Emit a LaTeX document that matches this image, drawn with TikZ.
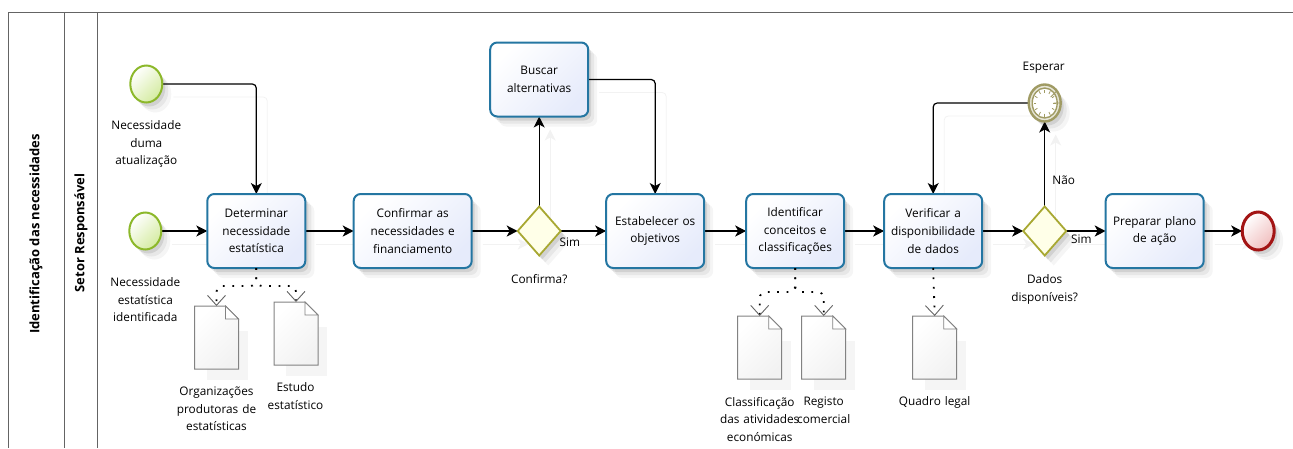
\documentclass[tikz,border=0pt]{standalone}
\usepackage{fontspec}
\setmainfont{Open Sans}
\usepackage{xcolor}
\usetikzlibrary{shapes,shapes.geometric,arrows.meta,positioning,calc,shadows,backgrounds}
\definecolor{taskcolor}{RGB}{36,118,162}
\definecolor{taskfill}{RGB}{230,235,251}
\definecolor{startcolor}{RGB}{140,184,42}
\definecolor{startfill}{RGB}{212,235,160}
\definecolor{endcolor}{RGB}{163,20,20}
\definecolor{endfill}{RGB}{240,190,190}
\definecolor{gatecolor}{RGB}{168,168,50}
\definecolor{gatefill}{RGB}{255,255,232}
\definecolor{timercolor}{RGB}{160,155,100}
\definecolor{lanecolor}{RGB}{100,100,100}
\definecolor{doccolor}{RGB}{130,130,130}

\begin{document}
\begin{tikzpicture}[
    x=1pt, y=-1pt,
    every node/.style={font=\fontsize{11.8}{17.6}\selectfont, inner sep=0pt, outer sep=0pt},
    softshadow/.style={
        general shadow={shadow xshift=3pt, shadow yshift=-4pt, fill=black, opacity=.09},
        general shadow={shadow xshift=6pt, shadow yshift=-7pt, fill=black, opacity=.06},
        general shadow={shadow xshift=9pt, shadow yshift=-10pt, fill=black, opacity=.04}},
    taskbox/.style={rectangle, rounded corners=7pt, draw=taskcolor, line width=2pt, top color=white, bottom color=taskfill, shading angle=45, minimum width=98pt, minimum height=74pt, text width=96pt, align=center, softshadow},
    startevent/.style={ellipse, draw=startcolor, line width=2pt, top color=white, bottom color=startfill, shading angle=45, minimum width=32pt, minimum height=37pt, softshadow},
    endevent/.style={ellipse, draw=endcolor, line width=3pt, top color=white, bottom color=endfill, shading angle=45, minimum width=32pt, minimum height=38pt, softshadow},
    timerevent/.style={ellipse, draw=timercolor, line width=2.4pt, fill=timercolor!25, minimum width=32pt, minimum height=37pt, softshadow},
    gateway/.style={diamond, draw=gatecolor, line width=1.8pt, fill=gatefill, minimum width=43pt, minimum height=49pt, softshadow},
    docbox/.style={rectangle, minimum width=44pt, minimum height=63pt},
    tasklabel/.style={text width=110pt, align=center, anchor=north},
    arrow/.style={->, >={Stealth[length=11pt, width=11pt, inset=3pt]}, line width=1.2pt, black, rounded corners=4pt,
        preaction={draw=black!5, line width=.8pt, transform canvas={shift={(11pt,-13pt)}}}},
    assoc/.style={->, >={Straight Barb[length=10pt, width=18pt, line width=.9pt, color=lanecolor]}, line width=1.8pt, black, dash pattern=on 1.8pt off 7.6pt, rounded corners=6pt},
    lane/.style={draw=lanecolor, line width=1pt},
    lanetitle/.style={rotate=90, font=\fontsize{13}{14}\selectfont\bfseries}
]
\useasboundingbox (0,0) rectangle (1293,448);

% Pool and lane
\draw[lane] (1293,12.5) -- (8.5,12.5) -- (8.5,448);
\draw[lane] (64,12.5) -- (64,448);
\draw[lane] (97,12.5) -- (97,448);
\node[lanetitle] (pooltitle) at (36,234) {Identificação das necessidades};
\node[lanetitle] (lanetitle) at (81,233) {Setor Responsável};

% Main flow
\node[taskbox] (determinar) at (256.3,231) {Determinar\\necessidade\\estatística};
\node[taskbox, minimum width=118pt, text width=116pt, right=48.4pt of determinar] (confirmar) {Confirmar as\\necessidades e\\financiamento};
\node[gateway, right=46pt of confirmar] (confirma) {};
\node[taskbox, right=45.5pt of confirma] (estabelecer) {Estabelecer os\\objetivos};
\node[taskbox, right=42pt of estabelecer] (identificar) {Identificar\\conceitos e\\classificações};
\node[taskbox, right=40pt of identificar] (verificar) {Verificar a\\disponibilidade\\de dados};
\node[gateway, right=41pt of verificar] (dados) {};
\node[taskbox, right=39.5pt of dados] (preparar) {Preparar plano\\de ação};
\node[endevent, right=38.5pt of preparar] (fim) {};

% Events and branches
\node[startevent, left=46pt of determinar] (inicioa) {};
\node[startevent, above=110pt of inicioa, xshift=1pt] (iniciob) {};
\node[taskbox, above=90pt of confirma] (buscar) {Buscar\\alternativas};
\node[timerevent, above=85pt of dados] (esperar) {};

% Clock face
\draw[timercolor, line width=1.4pt, fill=white] (esperar) ellipse (12.5pt and 15pt);
\foreach \a in {0,30,...,330}
    \draw[timercolor, line width=.8pt] ($(esperar)+(\a:8.5pt and 10.5pt)$) -- ($(esperar)+(\a:11pt and 13.5pt)$);
\draw[timercolor, line width=.9pt] ($(esperar)+(6,-6)$) -- (esperar) -- ($(esperar)+(9,0)$);

% Documents
\node[docbox, below=38pt of determinar, xshift=-39.8pt] (doca) {};
\node[docbox, below=34pt of determinar, xshift=39.7pt] (docb) {};
\node[docbox, below=48pt of identificar, xshift=-35.5pt] (docc) {};
\node[docbox, below=48pt of identificar, xshift=28.5pt] (docd) {};
\node[docbox, below=48pt of verificar, xshift=1.5pt] (doce) {};
\foreach \d in {doca,docb,docc,docd,doce} {
    \fill[black!4] ($(\d.north west)+(12,25)$) rectangle ($(\d.south east)+(9,11)$);
    \draw[draw=doccolor, line width=1pt, top color=white, bottom color=black!5, shading angle=45]
        (\d.north west) -- ($(\d.north east)+(-13,0)$) -- ($(\d.north east)+(0,13)$) -- (\d.south east) -- (\d.south west) -- cycle;
    \draw[draw=doccolor, line width=.8pt, fill=white] ($(\d.north east)+(-13,0)$) -- ($(\d.north east)+(-13,13)$) -- ($(\d.north east)+(0,13)$) -- cycle;
}

% Labels
\node[tasklabel, below=18pt of iniciob] (lbliniciob) {Necessidade\\duma\\atualização};
\node[tasklabel, below=28pt of inicioa] (lblinicioa) {Necessidade\\estatística\\identificada};
\node[tasklabel, below=18pt of doca] (lbldoca) {Organizações\\produtoras de\\estatísticas};
\node[tasklabel, below=18pt of docb, xshift=-.5pt] (lbldocb) {Estudo\\estatístico};
\node[tasklabel, below=18pt of docc] (lbldocc) {Classificação\\das atividades\\económicas};
\node[tasklabel, below=18pt of docd] (lbldocd) {Registo\\comercial};
\node[tasklabel, below=18pt of doce] (lbldoce) {Quadro legal};
\node[tasklabel, below=19pt of confirma] (lblconfirma) {Confirma?};
\node[tasklabel, below=19pt of dados] (lbldados) {Dados\\disponíveis?};
\node[above=11pt of esperar, xshift=-1pt] (lblesperar) {Esperar};
\node[right=-1pt of confirma, yshift=-11.5pt] (lblsima) {Sim};
\node[right=5pt of dados, yshift=-8.5pt] (lblsimb) {Sim};
\node[above=22pt of dados, xshift=19pt] (lblnao) {Não};

% Junctions of the associations
\coordinate (splita) at ($(determinar.south)+(0,18)$);
\coordinate (splitb) at ($(identificar.south)+(0,24)$);

\begin{scope}[on background layer]
% Sequence flows
\draw[arrow] (iniciob.east) -| (determinar.north);
\draw[arrow] (inicioa) -- (determinar);
\draw[arrow] (determinar) -- (confirmar);
\draw[arrow] (confirmar) -- (confirma);
\draw[arrow] (confirma) -- (estabelecer);
\draw[arrow] (confirma) -- (buscar);
\draw[arrow] (buscar.east) -| (estabelecer.north);
\draw[arrow] (estabelecer) -- (identificar);
\draw[arrow] (identificar) -- (verificar);
\draw[arrow] (verificar) -- (dados);
\draw[arrow] (dados) -- (preparar);
\draw[arrow] (preparar) -- (fim);
\draw[arrow] (dados) -- (esperar);
\draw[arrow] (esperar.west) -| (verificar.north);
\end{scope}

% Associations
\draw[assoc] (determinar.south) -- (splita) -| (doca.north);
\draw[assoc] (determinar.south) -- (splita) -| (docb.north);
\draw[assoc] (identificar.south) -- (splitb) -| (docc.north);
\draw[assoc] (identificar.south) -- (splitb) -| (docd.north);
\draw[assoc] (verificar.south) -- (doce.north);

\end{tikzpicture}
\end{document}
